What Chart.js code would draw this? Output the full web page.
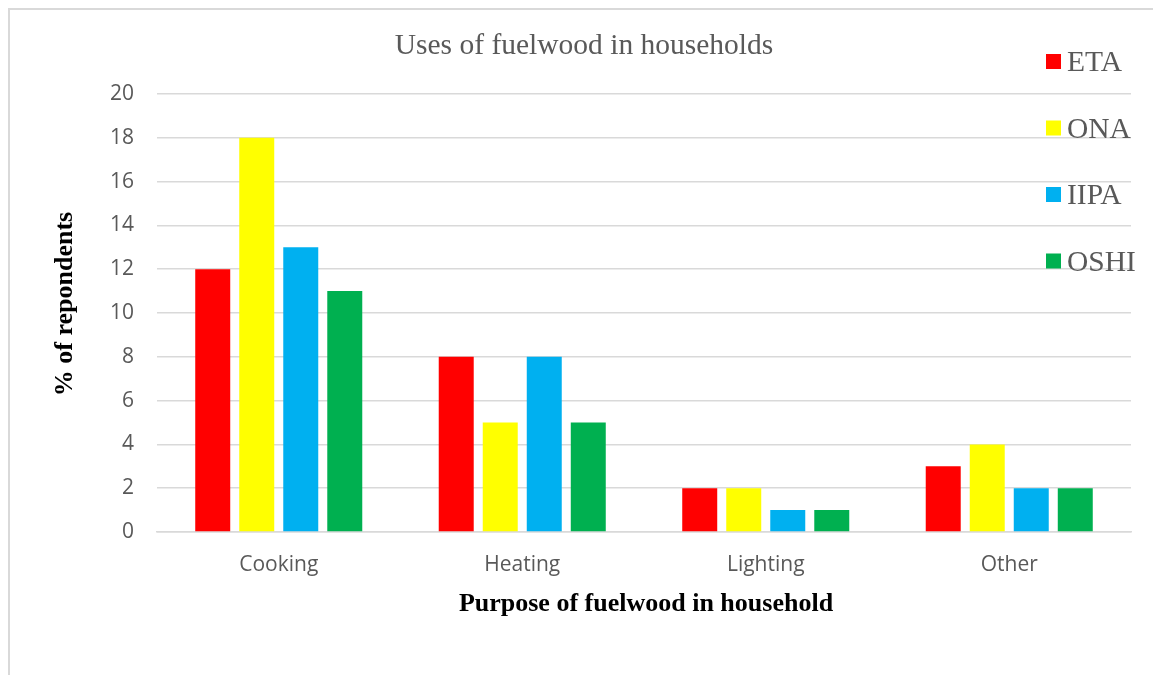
<!DOCTYPE html>
<html>
<head>
<meta charset="utf-8">
<script src="https://cdn.jsdelivr.net/npm/chart.js@4.4.0/dist/chart.umd.min.js"></script>
<style>
  body { margin: 0; background: #fff; }
  #frame { position: absolute; left: 8px; top: 8px; width: 1200px; height: 700px;
           border-left: 2px solid #d9d9d9; border-top: 2px solid #d9d9d9; }
  #mainChart { position: absolute; left: 0; top: 0; }
</style>
</head>
<body>
<div id="frame"></div>
<canvas id="mainChart" width="1153" height="675"></canvas>
<script>
const purposes = ["Cooking", "Heating", "Lighting", "Other"];
const regions = ["ETA", "ONA", "IIPA", "OSHI"];
const colors = ["#FF0000", "#FFFF00", "#00B0F0", "#00B050"];
const eta = [12, 8, 2, 3];
const ona = [18, 5, 2, 4];
const iipa = [13, 8, 1, 2];
const oshi = [11, 5, 1, 2];
const yTicks = [0, 2, 4, 6, 8, 10, 12, 14, 16, 18, 20];

const series = [eta, ona, iipa, oshi];
const serif = "'Liberation Serif', 'Times New Roman', serif";

// titles and the side legend are painted by hand so they can sit over the plot
const textPlugin = {
    id: 'texts',
    afterDraw(chart) {
        const ctx = chart.ctx;
        ctx.save();
        ctx.fillStyle = '#595959';
        ctx.font = '29.5px ' + serif;
        ctx.textAlign = 'center';
        ctx.textBaseline = 'alphabetic';
        ctx.fillText('Uses of fuelwood in households', 584, 54);

        ctx.fillStyle = '#000';
        ctx.font = 'bold 26px ' + serif;
        ctx.fillText('Purpose of fuelwood in household', 646, 611);

        ctx.save();
        ctx.translate(72, 304);
        ctx.rotate(-Math.PI / 2);
        ctx.fillText('% of repondents', 0, 0);
        ctx.restore();

        ctx.textAlign = 'left';
        ctx.font = '29.5px ' + serif;
        chart.data.datasets.forEach((ds, i) => {
            const base = 71 + i * 66.5;
            ctx.fillStyle = ds.backgroundColor;
            ctx.fillRect(1046, base - 17, 15, 15);
            ctx.fillStyle = '#595959';
            ctx.fillText(ds.label, 1067, base);
        });
        ctx.restore();
    }
};

new Chart(document.getElementById("mainChart"), {
    type: 'bar',
    data: {
        labels: purposes,
        datasets: regions.map((r, i) => ({
            label: r,
            data: series[i],
            backgroundColor: colors[i],
            borderWidth: 0,
            categoryPercentage: 0.723,
            barPercentage: 0.795
        }))
    },
    options: {
        responsive: false,
        animation: false,
        layout: { padding: { left: 0, right: 22, top: 94, bottom: 0 } },
        plugins: {
            legend: { display: false },
            title: { display: false },
            tooltip: { enabled: false }
        },
        scales: {
            x: {
                afterFit: s => { s.height = 143; },
                grid: { display: false, drawTicks: false },
                border: { color: '#d9d9d9', width: 1.5 },
                ticks: { color: '#595959', padding: 20, font: { family: "'Open Sans'", size: 21 } }
            },
            y: {
                min: 0,
                max: 20,
                afterFit: s => { s.width = 157; },
                afterBuildTicks: s => { s.ticks = yTicks.map(v => ({ value: v })); },
                grid: { color: '#d9d9d9', lineWidth: 1.5, drawTicks: false },
                border: { display: false },
                ticks: { color: '#595959', padding: 23, font: { family: "'Open Sans'", size: 21 } }
            }
        }
    },
    plugins: [textPlugin]
});
</script>
</body>
</html>
